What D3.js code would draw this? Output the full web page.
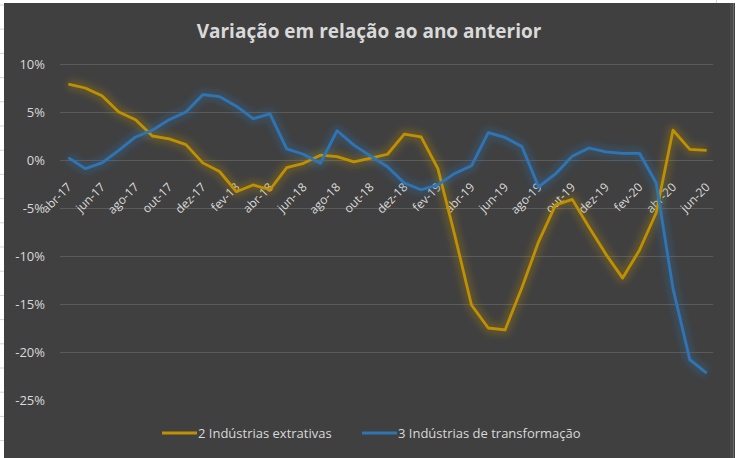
<!DOCTYPE html>
<html>
<head>
<meta charset="utf-8">
<script src="https://cdn.jsdelivr.net/npm/d3@7"></script>
<style>
  html, body { margin: 0; padding: 0; background: #ffffff; }
  svg { display: block; }
</style>
</head>
<body>
<svg id="chart" width="736" height="458"></svg>
<script>
// ---- data ----
const months = ["abr-17","mai-17","jun-17","jul-17","ago-17","set-17","out-17","nov-17","dez-17",
  "jan-18","fev-18","mar-18","abr-18","mai-18","jun-18","jul-18","ago-18","set-18","out-18","nov-18","dez-18",
  "jan-19","fev-19","mar-19","abr-19","mai-19","jun-19","jul-19","ago-19","set-19","out-19","nov-19","dez-19",
  "jan-20","fev-20","mar-20","abr-20","mai-20","jun-20"];
const extrativas = [7.9,7.5,6.7,5.0,4.2,2.5,2.2,1.6,-0.3,
  -1.2,-3.3,-2.6,-3.1,-0.8,-0.35,0.5,0.35,-0.2,0.2,0.6,2.7,
  2.4,-0.9,-7.8,-15.1,-17.5,-17.7,-13.3,-8.5,-4.7,-4.1,-7.0,-9.8,
  -12.3,-9.4,-5.5,3.1,1.1,1.0];
const transformacao = [0.25,-0.9,-0.3,1.0,2.4,3.1,4.2,5.0,6.8,
  6.6,5.6,4.3,4.8,1.15,0.6,-0.35,3.05,1.55,0.4,-0.7,-2.4,
  -3.1,-2.6,-1.4,-0.6,2.85,2.35,1.4,-2.8,-1.45,0.4,1.25,0.85,
  0.7,0.7,-2.4,-13.4,-20.8,-22.2];
const seriesNames = ["2 Indústrias extrativas","3 Indústrias de transformação"];
const yTicks = [-25,-20,-15,-10,-5,0,5,10];
const title = "Variação em relação ao ano anterior";

// ---- drawing ----
const svg = d3.select("#chart");
const W = 736, H = 458;
const font = "'Open Sans', 'Noto Sans', sans-serif";
const textColor = "#d9d9d9";
const colors = ["#BF9000", "#2E75B6"];

// spreadsheet cell grid remnants
svg.append("rect").attr("x",0).attr("y",0).attr("width",W).attr("height",H).attr("fill","#ffffff");
svg.append("g").selectAll("line").data(d3.range(5, H, 24.2)).join("line")
  .attr("x1",0).attr("x2",4).attr("y1",d=>d).attr("y2",d=>d)
  .attr("stroke","#d4d4d4").attr("stroke-width",1);
svg.append("line").attr("x1",716.5).attr("x2",716.5).attr("y1",0).attr("y2",3).attr("stroke","#d4d4d4");

// chart area
svg.append("rect").attr("x",4).attr("y",3).attr("width",731).attr("height",H-3).attr("fill","#404040");
svg.append("rect").attr("x",730).attr("y",3).attr("width",3).attr("height",H-3).attr("fill","#4a4a4a");
svg.append("line").attr("x1",733.5).attr("x2",733.5).attr("y1",3).attr("y2",H).attr("stroke","#6a6a6a");

// glow filter
const defs = svg.append("defs");
const f = defs.append("filter").attr("id","glow").attr("x","-10%").attr("y","-10%").attr("width","120%").attr("height","120%");
f.append("feGaussianBlur").attr("stdDeviation",3.5);

const x = d3.scaleBand().domain(months).range([60, 715]).padding(0);
const y = d3.scaleLinear().domain([-25, 10]).range([400, 64]);
const cx = d => x(d) + x.bandwidth()/2;

// gridlines
svg.append("g").selectAll("line").data(yTicks.filter(v => v > -25)).join("line")
  .attr("x1",60).attr("x2",713)
  .attr("y1",d=>Math.round(y(d))+0.5).attr("y2",d=>Math.round(y(d))+0.5)
  .attr("stroke","#5b5b5b").attr("stroke-width",1);

// y axis
const yAxis = svg.append("g").attr("transform","translate(60,0)")
  .call(d3.axisLeft(y).tickValues(yTicks).tickFormat(d => d + "%").tickSize(0).tickPadding(15));
yAxis.select(".domain").remove();
yAxis.selectAll("text").attr("fill",textColor).style("font-family",font).style("font-size","13px");

// x axis at zero line
const xAxis = svg.append("g").attr("transform",`translate(0,${y(0)})`)
  .call(d3.axisBottom(x).tickValues(months.filter((m,i)=> i % 2 === 0)).tickSize(0).tickPadding(0));
xAxis.select(".domain").remove();
xAxis.selectAll(".tick text")
  .attr("fill",textColor).style("font-family",font).style("font-size","12px")
  .attr("text-anchor","end")
  .attr("y",0).attr("dy","0.35em")
  .attr("transform","translate(1,25) rotate(-45)");

// lines
const line = d3.line().x((d,i)=>cx(months[i])).y(d=>y(d));
const series = [extrativas, transformacao];
series.forEach((s, k) => {
  svg.append("path").datum(s).attr("d", line)
    .attr("fill","none").attr("stroke",colors[k]).attr("stroke-width",10)
    .attr("stroke-opacity",0.28).attr("stroke-linejoin","round").attr("filter","url(#glow)");
});
series.forEach((s, k) => {
  svg.append("path").datum(s).attr("d", line)
    .attr("fill","none").attr("stroke",colors[k]).attr("stroke-width",2.8)
    .attr("stroke-linejoin","round");
});

// title
svg.append("text").attr("x",369).attr("y",38).attr("text-anchor","middle")
  .attr("fill",textColor).style("font-family",font).style("font-size","19px").style("font-weight","bold")
  .text(title);

// legend
const legendPos = [162, 362];
const lg = svg.append("g");
seriesNames.forEach((n,k) => {
  lg.append("line").attr("x1",legendPos[k]).attr("x2",legendPos[k]+35).attr("y1",433).attr("y2",433)
    .attr("stroke",colors[k]).attr("stroke-width",3);
  lg.append("text").attr("x",legendPos[k]+36).attr("y",433).attr("dy","0.35em")
    .attr("fill",textColor).style("font-family",font).style("font-size","13px").text(n);
});
</script>
</body>
</html>
